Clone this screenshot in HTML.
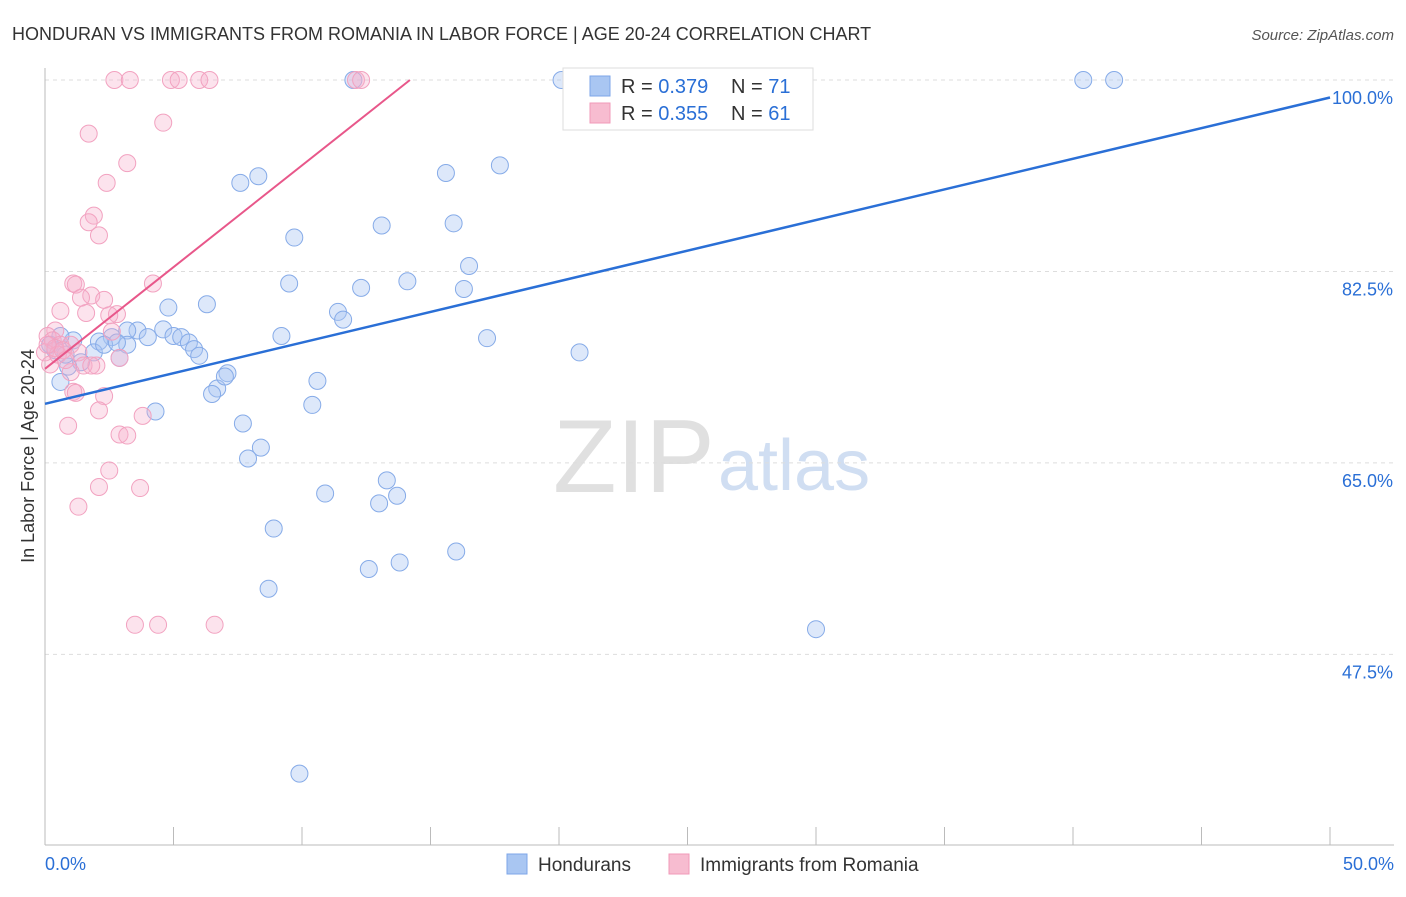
<!DOCTYPE html>
<html><head><meta charset="utf-8">
<style>
body{margin:0;background:#fff;font-family:"Liberation Sans",sans-serif;}
svg text{font-family:"Liberation Sans",sans-serif;}
</style></head>
<body>
<svg id="chart" width="1406" height="892" xmlns="http://www.w3.org/2000/svg">
<text x="12" y="40" font-size="18" fill="#333">HONDURAN VS IMMIGRANTS FROM ROMANIA IN LABOR FORCE | AGE 20-24 CORRELATION CHART</text>
<text x="1394" y="40" font-size="15" fill="#555" font-style="italic" text-anchor="end">Source: ZipAtlas.com</text>
<text x="553" y="492" font-size="104" fill="#e0e0e0" font-family="Liberation Serif">ZIP</text>
<text x="718" y="490" font-size="72" fill="#d0def2">atlas</text>
<text transform="translate(34,456) rotate(-90)" font-size="18" fill="#333" text-anchor="middle">In Labor Force | Age 20-24</text>
<g id="grid"></g><g id="axes"></g><g id="pts"></g><g id="lines"></g>
<g>
<rect x="563" y="68" width="250" height="62" fill="#fff" stroke="#ddd"/>
<rect x="590" y="76" width="20" height="20" fill="#a9c6f2" stroke="#7da6e8"/>
<text x="621" y="93" font-size="20" fill="#333">R = <tspan fill="#2a6fd6">0.379</tspan></text>
<text x="731" y="93" font-size="20" fill="#333">N = <tspan fill="#2a6fd6">71</tspan></text>
<rect x="590" y="103" width="20" height="20" fill="#f7bcd0" stroke="#f09ab8"/>
<text x="621" y="120" font-size="20" fill="#333">R = <tspan fill="#2a6fd6">0.355</tspan></text>
<text x="731" y="120" font-size="20" fill="#333">N = <tspan fill="#2a6fd6">61</tspan></text>
</g>
<g>
<rect x="507" y="854" width="20" height="20" fill="#a9c6f2" stroke="#7da6e8"/>
<text x="538" y="871" font-size="19" fill="#333">Hondurans</text>
<rect x="669" y="854" width="20" height="20" fill="#f7bcd0" stroke="#f09ab8"/>
<text x="700" y="871" font-size="19" fill="#333">Immigrants from Romania</text>
</g>
</svg>
<script>
const yTicks=[100,82.5,65,47.5];
const yTickLabels=["100.0%","82.5%","65.0%","47.5%"];
const xTickLabels=["0.0%","50.0%"];
const blueX=[20.1,23.9,28.1,40.4,41.6,12.0,7.6,8.3,15.6,17.7,9.7,13.1,15.9,16.5,9.5,12.3,14.1,16.3,11.4,11.6,6.3,4.8,9.2,17.2,20.8,3.6,3.2,4.6,4.0,5.0,5.3,5.6,5.8,6.0,2.6,2.1,1.1,0.6,3.2,2.9,1.9,1.4,0.9,0.6,7.1,6.7,6.5,7.0,10.6,10.4,4.3,7.7,8.4,7.9,13.3,10.9,13.0,13.7,8.9,16.0,13.8,12.6,8.7,30.0,9.9,0.2,0.4,0.8,2.3,2.8];
const blueY=[100,100,100,100,100,100,90.6,91.2,91.5,92.2,85.6,86.7,86.9,83.0,81.4,81.0,81.6,80.9,78.8,78.1,79.5,79.2,76.6,76.4,75.1,77.1,77.1,77.2,76.5,76.6,76.5,76.0,75.4,74.8,76.5,76.1,76.2,76.6,75.8,74.6,75.1,74.2,73.8,72.4,73.2,71.8,71.3,72.9,72.5,70.3,69.7,68.6,66.4,65.4,63.4,62.2,61.3,62.0,59.0,56.9,55.9,55.3,53.5,49.8,36.6,75.8,75.3,74.9,75.8,76.0];
const pinkX=[2.7,3.3,4.9,5.2,6.0,6.4,12.1,12.3,4.6,1.7,3.2,2.4,1.9,1.7,2.1,1.1,1.2,4.2,1.8,2.3,1.4,0.6,1.6,2.8,2.5,0.4,2.6,0.1,0.3,0.6,1.0,0.0,1.3,0.2,1.5,2.0,1.8,2.9,1.0,1.1,1.2,2.3,2.1,3.8,0.9,2.9,3.2,2.5,2.1,3.7,1.3,3.5,4.4,6.6,0.4,0.5,0.7,0.8,0.1];
const pinkY=[100,100,100,100,100,100,100,100,96.1,95.1,92.4,90.6,87.6,87.0,85.8,81.4,81.3,81.4,80.3,79.9,80.1,78.9,78.7,78.6,78.5,77.1,77.0,76.6,76.2,75.8,75.8,75.1,75.1,74.0,73.9,73.9,73.9,74.6,73.3,71.5,71.4,71.1,69.8,69.3,68.4,67.6,67.5,64.3,62.8,62.7,61.0,50.2,50.2,50.2,75.5,74.9,75.3,74.4,75.8];
const blueTrend=[70.4,98.4];
const pinkTrend=[73.6,100,14.2];
const X=v=>45+v*25.7, Y=v=>80+(100-v)*10.94;
const NS="http://www.w3.org/2000/svg";
function mk(t,a,p){const e=document.createElementNS(NS,t);for(const k in a)e.setAttribute(k,a[k]);document.getElementById(p).appendChild(e);return e;}
yTicks.forEach((t,i)=>{
 const g=mk('line',{x1:45,x2:1394,y1:Y(t),y2:Y(t),stroke:'#ddd','stroke-dasharray':'4,4'},'grid');
 
 
 const l=mk('text',{x:1393,y:Y(t)+24,'font-size':18,fill:'#2a6fd6','text-anchor':'end'},'grid');
 l.textContent=yTickLabels[i];
 
 
});
const ya=mk('line',{x1:45,x2:45,y1:68,y2:845,stroke:'#bbb'},'axes');


const xa=mk('line',{x1:45,x2:1394,y1:845,y2:845,stroke:'#bbb'},'axes');


for(let i=0;i<=10;i++){const t=mk('line',{x1:X(i*5),x2:X(i*5),y1:827,y2:845,stroke:'#bbb'},'axes');
 
 }
[[0,'start',45],[50,'end',1394]].forEach((d,i)=>{const t=mk('text',{x:d[2],y:870,'font-size':18,fill:'#2a6fd6','text-anchor':d[1]},'axes');t.textContent=xTickLabels[i];
 
 });
function pts(xs,ys,fill,stroke,name){xs.forEach((x,i)=>{const c=mk('circle',{cx:X(x),cy:Y(ys[i]),r:8.5,fill:fill,stroke:stroke,'stroke-width':1},'pts');
 
 });}
pts(blueX,blueY,'rgba(170,198,242,0.4)','#86abe8','honduran-point');
pts(pinkX,pinkY,'rgba(246,175,202,0.35)','#f2a2c0','romania-point');
const bl=mk('line',{x1:X(0),y1:Y(blueTrend[0]),x2:X(50),y2:Y(blueTrend[1]),stroke:'#2a6fd6','stroke-width':2.5},'lines');


const pl=mk('line',{x1:X(0),y1:Y(pinkTrend[0]),x2:X(pinkTrend[2]),y2:Y(pinkTrend[1]),stroke:'#e8578a','stroke-width':2},'lines');


</script>
</body></html>
